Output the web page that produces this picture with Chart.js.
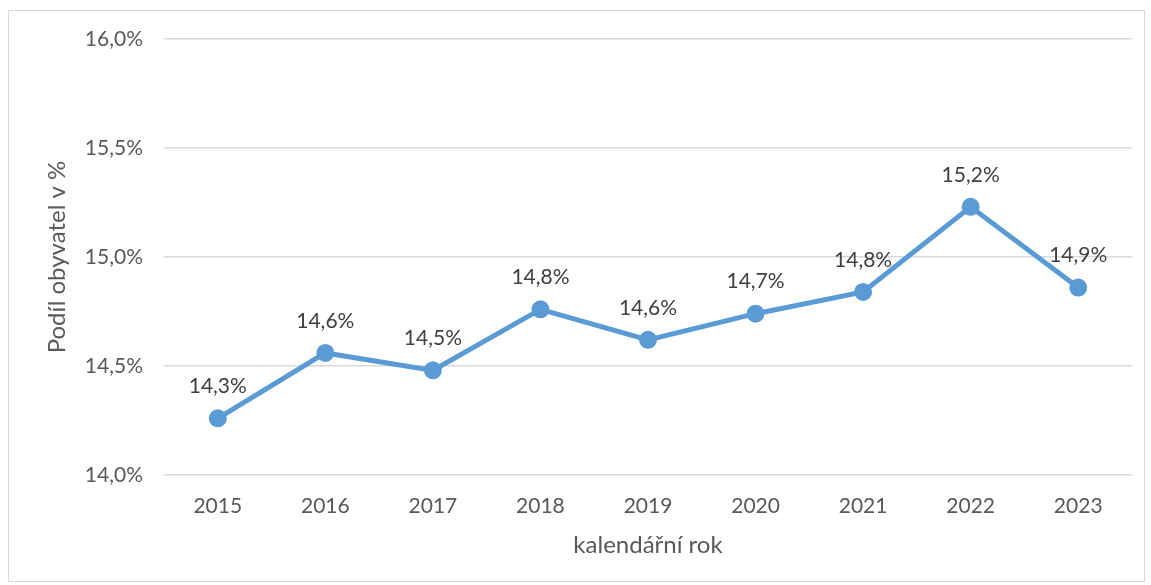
<!DOCTYPE html>
<html>
<head>
<meta charset="utf-8">
<script src="https://cdn.jsdelivr.net/npm/chart.js@4"></script>
<style>
  html, body { margin: 0; padding: 0; background: #fff; }
  #wrap { position: relative; width: 1151px; height: 585px; }
  #frame { position: absolute; left: 8px; top: 10px; width: 1137px; height: 572px; border: 1px solid #d9d9d9; box-sizing: border-box; }
  canvas { position: absolute; left: 0; top: 0; }
</style>
</head>
<body>
<div id="wrap">
  <div id="frame"></div>
  <canvas id="chart" width="1151" height="585"></canvas>
</div>
<script>
// Data
const years = ['2015', '2016', '2017', '2018', '2019', '2020', '2021', '2022', '2023'];
const share = [14.26, 14.56, 14.48, 14.76, 14.62, 14.74, 14.84, 15.23, 14.86];
const yMin = 14.0;
const yMax = 16.0;
const yStep = 0.5;

const FONT = 'Lato, "Open Sans", sans-serif';

function pct(v, digits) {
    return v.toFixed(digits).replace('.', ',') + '%';
}

// Draws the value labels above each point
const pointLabels = {
    id: 'pointLabels',
    afterDatasetsDraw(chart) {
        const ctx = chart.ctx;
        const meta = chart.getDatasetMeta(0);
        ctx.save();
        ctx.font = '21px ' + FONT;
        ctx.fillStyle = '#404040';
        ctx.textAlign = 'center';
        ctx.textBaseline = 'middle';
        meta.data.forEach((pt, i) => {
            ctx.fillText(pct(share[i], 1), pt.x, pt.y - 32);
        });
        ctx.restore();
    }
};

function initLineChart() {
    const ctx = document.getElementById('chart').getContext('2d');
    new Chart(ctx, {
        type: 'line',
        data: {
            labels: years,
            datasets: [{
                data: share,
                borderColor: '#5b9bd5',
                backgroundColor: '#5b9bd5',
                borderWidth: 5,
                pointRadius: 6.5,
                pointHoverRadius: 6.5,
                tension: 0
            }]
        },
        options: {
            responsive: false,
            animation: false,
            layout: { padding: { left: 0, right: 19, top: 39, bottom: 0 } },
            plugins: {
                legend: { display: false },
                tooltip: { enabled: false }
            },
            scales: {
                x: {
                    offset: true,
                    grid: { display: false, drawTicks: false, offset: true },
                    border: { display: false },
                    ticks: { color: '#595959', font: { family: FONT, size: 21 }, padding: 19 },
                    title: {
                        display: true,
                        text: 'kalendářní rok',
                        color: '#595959',
                        font: { family: FONT, size: 24 },
                        padding: { top: 0, bottom: 25 }
                    },
                    afterFit(scale) { scale.height = 110; }
                },
                y: {
                    min: yMin,
                    max: yMax,
                    grid: { color: '#d9d9d9', lineWidth: 1.5, drawTicks: false },
                    border: { display: false },
                    ticks: {
                        stepSize: yStep,
                        color: '#595959',
                        font: { family: FONT, size: 21 },
                        padding: 21,
                        callback: v => pct(v, 1)
                    },
                    title: {
                        display: true,
                        text: 'Podíl obyvatel v %',
                        color: '#595959',
                        font: { family: FONT, size: 24 },
                        padding: { top: 43, bottom: 0 }
                    },
                    afterFit(scale) { scale.width = 164; }
                }
            }
        },
        plugins: [pointLabels]
    });
}

document.addEventListener('DOMContentLoaded', initLineChart);
</script>
</body>
</html>
